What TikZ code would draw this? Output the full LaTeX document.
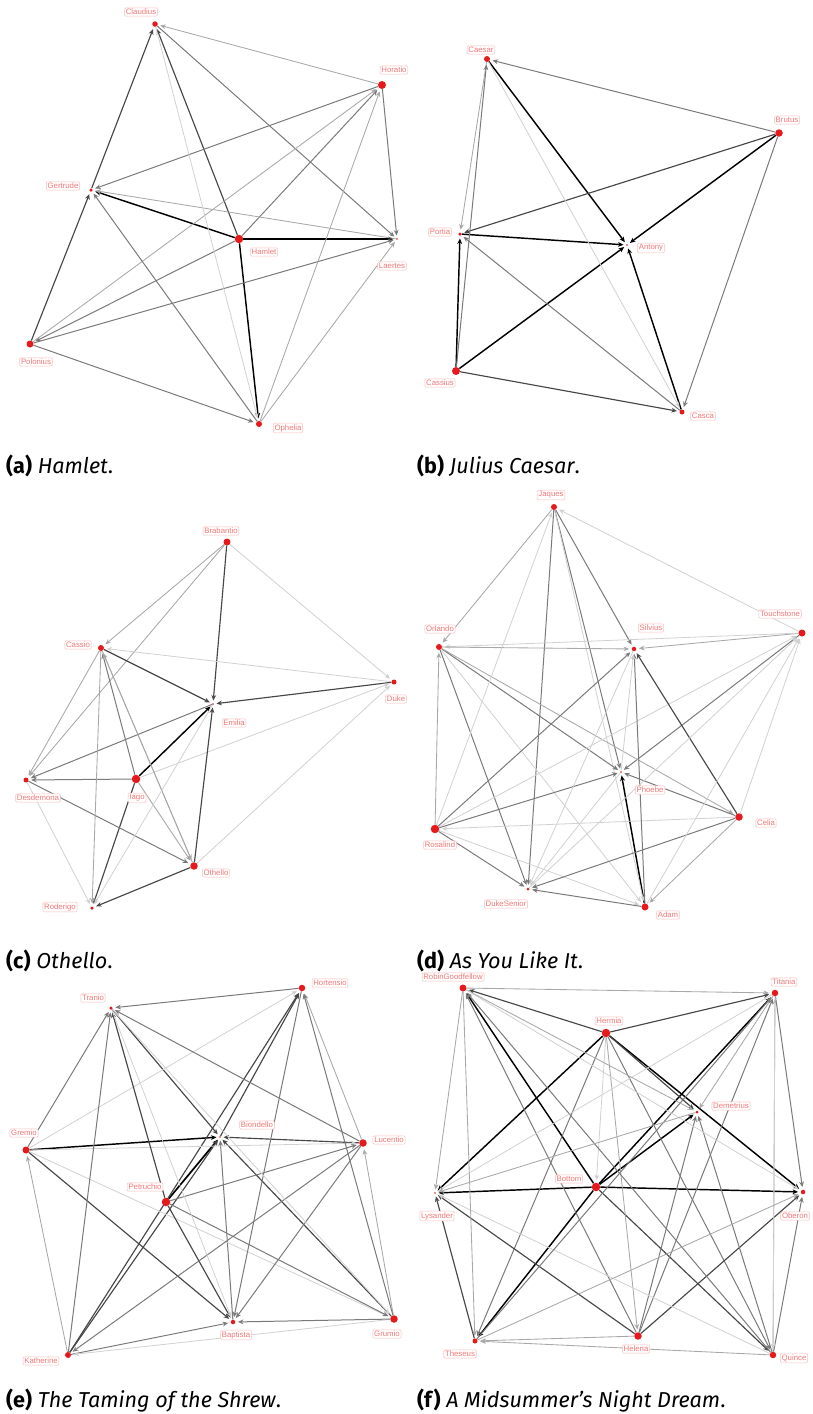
\documentclass[tikz,border=0pt]{standalone}
\usepackage{fontspec}
\setmainfont{Liberation Sans}
\newfontfamily\capfont{Fira Sans}
\usetikzlibrary{arrows.meta,backgrounds}
\definecolor{dotred}{RGB}{228,26,28}
\definecolor{lbltext}{RGB}{242,120,120}
\definecolor{lblbox}{RGB}{250,190,190}
\tikzset{
  vtx/.style={circle,fill=dotred,inner sep=0pt,minimum size=#1},
  lbl/.style={draw=lblbox,fill=white,text=lbltext,rounded corners=1.2pt,inner sep=1.3pt,line width=0.5pt,font=\fontsize{7.8}{8}\selectfont},
  conn/.style={-{Stealth[length=5.5pt,width=4.8pt]},shorten >=2.5pt},
  k1/.style={conn,draw=black,line width=1.45pt},
  k2/.style={conn,draw=black!72,line width=1.15pt},
  k3/.style={conn,draw=black!52,line width=1pt},
  k4/.style={conn,draw=black!34,line width=0.85pt},
  k5/.style={conn,draw=black!18,line width=0.8pt},
  captxt/.style={anchor=west,inner sep=0pt,font=\capfont\fontsize{21.6}{23}\selectfont}
}
\begin{document}
\begin{tikzpicture}[x=1pt,y=-1pt]
\useasboundingbox (0,0) rectangle (813,1414);
% ---------------- (a) Hamlet
\node[vtx=5.5pt] (aClaudius) at (155,24) {};
\node[vtx=8pt] (aHoratio) at (382,85) {};
\node[vtx=3.5pt] (aGertrude) at (91,190) {};
\node[vtx=8.5pt] (aHamlet) at (239,239) {};
\node[vtx=1.6pt] (aLaertes) at (397,239) {};
\node[vtx=7pt] (aPolonius) at (30,344) {};
\node[vtx=6pt] (aOphelia) at (259,424) {};
\begin{pgfonlayer}{background}
\draw[k1] (aHamlet) -- (aGertrude);
\draw[k1] (aHamlet) -- (aLaertes);
\draw[k1] (aHamlet) -- (aOphelia);
\draw[k2] (aHamlet) -- (aClaudius);
\draw[k3] (aHamlet) -- (aHoratio);
\draw[k3] (aHamlet) -- (aPolonius);
\draw[k2] (aGertrude) -- (aClaudius);
\draw[k2] (aPolonius) -- (aGertrude);
\draw[k3] (aHoratio) -- (aGertrude);
\draw[k4] (aHoratio) -- (aClaudius);
\draw[k3] (aClaudius) -- (aLaertes);
\draw[k3] (aHoratio) -- (aLaertes);
\draw[k4] (aLaertes) -- (aGertrude);
\draw[k4] (aPolonius) -- (aHoratio);
\draw[k3] (aPolonius) -- (aLaertes);
\draw[k3] (aPolonius) -- (aOphelia);
\draw[k3] (aOphelia) -- (aGertrude);
\draw[k4] (aOphelia) -- (aHoratio);
\draw[k4] (aOphelia) -- (aLaertes);
\draw[k5] (aClaudius) -- (aOphelia);
\end{pgfonlayer}
\node[lbl] (aClaudiusL) at (141,12) {Claudius};
\node[lbl] (aHoratioL) at (394,70) {Horatio};
\node[lbl] (aGertrudeL) at (63,186) {Gertrude};
\node[lbl] (aHamletL) at (264,252) {Hamlet};
\node[lbl] (aLaertesL) at (392,266) {Laertes};
\node[lbl] (aPoloniusL) at (36,362) {Polonius};
\node[lbl] (aOpheliaL) at (288,428) {Ophelia};
\node[captxt] (capA) at (6,466) {\textbf{(a)} \textit{Hamlet}.};
% ---------------- (b) Julius Caesar
\node[vtx=6pt] (bCaesar) at (487,59) {};
\node[vtx=7.5pt] (bBrutus) at (779,133) {};
\node[vtx=3.5pt] (bPortia) at (460,234) {};
\node[vtx=1.6pt] (bAntony) at (627,245) {};
\node[vtx=8pt] (bCassius) at (456,371) {};
\node[vtx=5pt] (bCasca) at (682,412) {};
\begin{pgfonlayer}{background}
\draw[k1] (bCaesar) -- (bAntony);
\draw[k1] (bBrutus) -- (bAntony);
\draw[k2] (bBrutus) -- (bPortia);
\draw[k3] (bBrutus) -- (bCaesar);
\draw[k3] (bBrutus) -- (bCasca);
\draw[k1] (bPortia) -- (bAntony);
\draw[k1] (bCassius) -- (bPortia);
\draw[k1] (bCassius) -- (bAntony);
\draw[k2] (bCassius) -- (bCasca);
\draw[k1] (bCasca) -- (bAntony);
\draw[k3] (bCasca) -- (bPortia);
\draw[k4] (bCaesar) -- (bPortia);
\draw[k3] (bCassius) -- (bCaesar);
\draw[k5] (bCaesar) -- (bCasca);
\end{pgfonlayer}
\node[lbl] (bCaesarL) at (481,50) {Caesar};
\node[lbl] (bBrutusL) at (787,120) {Brutus};
\node[lbl] (bPortiaL) at (440,232) {Portia};
\node[lbl] (bAntonyL) at (651,248) {Antony};
\node[lbl] (bCassiusL) at (440,383) {Cassius};
\node[lbl] (bCascaL) at (703,416) {Casca};
\node[captxt] (capB) at (417,466) {\textbf{(b)} \textit{Julius Caesar}.};
% ---------------- (c) Othello
\node[vtx=7pt] (cBrabantio) at (227,542) {};
\node[vtx=6pt] (cCassio) at (101,648) {};
\node[vtx=5pt] (cDuke) at (394,682) {};
\node[vtx=1.6pt] (cEmilia) at (213,704) {};
\node[vtx=5pt] (cDesdemona) at (26,780) {};
\node[vtx=8.5pt] (cIago) at (136,779) {};
\node[vtx=7.5pt] (cOthello) at (194,866) {};
\node[vtx=3.5pt] (cRoderigo) at (92,908) {};
\begin{pgfonlayer}{background}
\draw[k1] (cIago) -- (cEmilia);
\draw[k2] (cBrabantio) -- (cEmilia);
\draw[k4] (cBrabantio) -- (cCassio);
\draw[k4] (cBrabantio) -- (cDesdemona);
\draw[k5] (cBrabantio) -- (cDuke);
\draw[k2] (cCassio) -- (cEmilia);
\draw[k2] (cDuke) -- (cEmilia);
\draw[k5] (cDuke) -- (cCassio);
\draw[k3] (cIago) -- (cCassio);
\draw[k3] (cIago) -- (cDesdemona);
\draw[k5] (cIago) -- (cDuke);
\draw[k2] (cIago) -- (cRoderigo);
\draw[k4] (cIago) -- (cOthello);
\draw[k2] (cOthello) -- (cEmilia);
\draw[k2] (cOthello) -- (cRoderigo);
\draw[k4] (cOthello) -- (cCassio);
\draw[k5] (cOthello) -- (cDuke);
\draw[k3] (cEmilia) -- (cDesdemona);
\draw[k3] (cDesdemona) -- (cOthello);
\draw[k4] (cCassio) -- (cDesdemona);
\draw[k4] (cCassio) -- (cRoderigo);
\draw[k4] (cCassio) -- (cOthello);
\draw[k5] (cDesdemona) -- (cRoderigo);
\draw[k5] (cEmilia) -- (cRoderigo);
\end{pgfonlayer}
\node[lbl] (cBrabantioL) at (221,531) {Brabantio};
\node[lbl] (cCassioL) at (78,645) {Cassio};
\node[lbl] (cDukeL) at (396,699) {Duke};
\node[lbl] (cEmiliaL) at (234,723) {Emilia};
\node[lbl] (cDesdemonaL) at (38,798) {Desdemona};
\node[lbl] (cIagoL) at (137,798) {Iago};
\node[lbl] (cOthelloL) at (216,873) {Othello};
\node[lbl] (cRoderigoL) at (60,907) {Roderigo};
\node[captxt] (capC) at (6,961) {\textbf{(c)} \textit{Othello}.};
% ---------------- (d) As You Like It
\node[vtx=6pt] (dJaques) at (554,507) {};
\node[vtx=7pt] (dTouchstone) at (802,633) {};
\node[vtx=6pt] (dOrlando) at (439,647) {};
\node[vtx=4.5pt] (dSilvius) at (634,649) {};
\node[vtx=1.6pt] (dPhoebe) at (621,772) {};
\node[vtx=7.5pt] (dCelia) at (739,817) {};
\node[vtx=8.5pt] (dRosalind) at (435,829) {};
\node[vtx=3pt] (dDukeSenior) at (528,889) {};
\node[vtx=7pt] (dAdam) at (645,907) {};
\begin{pgfonlayer}{background}
\draw[k1] (dAdam) -- (dPhoebe);
\draw[k3] (dJaques) -- (dPhoebe);
\draw[k3] (dJaques) -- (dSilvius);
\draw[k4] (dJaques) -- (dOrlando);
\draw[k3] (dJaques) -- (dDukeSenior);
\draw[k5] (dJaques) -- (dAdam);
\draw[k5] (dTouchstone) -- (dJaques);
\draw[k4] (dTouchstone) -- (dSilvius);
\draw[k3] (dTouchstone) -- (dPhoebe);
\draw[k5] (dTouchstone) -- (dOrlando);
\draw[k4] (dOrlando) -- (dSilvius);
\draw[k3] (dOrlando) -- (dPhoebe);
\draw[k3] (dOrlando) -- (dDukeSenior);
\draw[k5] (dOrlando) -- (dAdam);
\draw[k4] (dOrlando) -- (dCelia);
\draw[k4] (dRosalind) -- (dOrlando);
\draw[k3] (dRosalind) -- (dSilvius);
\draw[k3] (dRosalind) -- (dPhoebe);
\draw[k3] (dRosalind) -- (dDukeSenior);
\draw[k5] (dCelia) -- (dRosalind);
\draw[k5] (dRosalind) -- (dTouchstone);
\draw[k5] (dRosalind) -- (dJaques);
\draw[k5] (dRosalind) -- (dAdam);
\draw[k3] (dCelia) -- (dPhoebe);
\draw[k2] (dCelia) -- (dSilvius);
\draw[k3] (dCelia) -- (dDukeSenior);
\draw[k4] (dCelia) -- (dAdam);
\draw[k5] (dCelia) -- (dTouchstone);
\draw[k3] (dAdam) -- (dDukeSenior);
\draw[k3] (dAdam) -- (dSilvius);
\draw[k5] (dAdam) -- (dTouchstone);
\draw[k5] (dSilvius) -- (dDukeSenior);
\draw[k5] (dPhoebe) -- (dSilvius);
\draw[k5] (dDukeSenior) -- (dTouchstone);
\draw[k5] (dPhoebe) -- (dDukeSenior);
\end{pgfonlayer}
\node[lbl] (dJaquesL) at (551,495) {Jaques};
\node[lbl] (dTouchstoneL) at (780,614) {Touchstone};
\node[lbl] (dOrlandoL) at (440,629) {Orlando};
\node[lbl] (dSilviusL) at (651,628) {Silvius};
\node[lbl] (dPhoebeL) at (650,790) {Phoebe};
\node[lbl] (dCeliaL) at (766,823) {Celia};
\node[lbl] (dRosalindL) at (440,845) {Rosalind};
\node[lbl] (dDukeSeniorL) at (506,904) {DukeSenior};
\node[lbl] (dAdamL) at (668,915) {Adam};
\node[captxt] (capD) at (417,961) {\textbf{(d)} \textit{As You Like It}.};
% ---------------- (e) The Taming of the Shrew
\node[vtx=6.5pt] (eHortensio) at (302,988) {};
\node[vtx=3.5pt] (eTranio) at (111,1008) {};
\node[vtx=1.6pt] (eBiondello) at (220,1137) {};
\node[vtx=7pt] (eGremio) at (26,1150) {};
\node[vtx=7.5pt] (eLucentio) at (363,1143) {};
\node[vtx=8.5pt] (ePetruchio) at (166,1202) {};
\node[vtx=4.5pt] (eBaptista) at (233,1322) {};
\node[vtx=7.5pt] (eGrumio) at (394,1319) {};
\node[vtx=6pt] (eKatherine) at (68,1355) {};
\begin{pgfonlayer}{background}
\draw[k1] (eGremio) -- (eBiondello);
\draw[k1,line width=1.7pt] (ePetruchio) -- (eBiondello);
\draw[k2] (eLucentio) -- (eBiondello);
\draw[k2] (eGrumio) -- (eBiondello);
\draw[k2] (eTranio) -- (eBiondello);
\draw[k2] (eBiondello) -- (eHortensio);
\draw[k2] (eKatherine) -- (eHortensio);
\draw[k2] (eKatherine) -- (eBiondello);
\draw[k3] (eBaptista) -- (eBiondello);
\draw[k3] (eGremio) -- (eTranio);
\draw[k5] (eGremio) -- (eHortensio);
\draw[k2] (eGremio) -- (eBaptista);
\draw[k5] (eGremio) -- (eLucentio);
\draw[k5] (eGremio) -- (eGrumio);
\draw[k2] (ePetruchio) -- (eTranio);
\draw[k2] (ePetruchio) -- (eBaptista);
\draw[k3] (ePetruchio) -- (eLucentio);
\draw[k3] (ePetruchio) -- (eGrumio);
\draw[k3] (eKatherine) -- (eTranio);
\draw[k4] (eKatherine) -- (eGremio);
\draw[k3] (eKatherine) -- (eBaptista);
\draw[k3] (eLucentio) -- (eKatherine);
\draw[k5] (eGrumio) -- (eKatherine);
\draw[k3] (eHortensio) -- (eTranio);
\draw[k3] (eHortensio) -- (eBaptista);
\draw[k3] (eLucentio) -- (eTranio);
\draw[k4] (eLucentio) -- (eHortensio);
\draw[k3] (eLucentio) -- (eBaptista);
\draw[k3] (eGrumio) -- (eBaptista);
\draw[k4] (eGrumio) -- (eLucentio);
\draw[k3] (eGrumio) -- (eHortensio);
\draw[k5] (eTranio) -- (eBaptista);
\draw[k5] (eTranio) -- (eGrumio);
\end{pgfonlayer}
\node[lbl] (eHortensioL) at (330,983) {Hortensio};
\node[lbl] (eTranioL) at (93,998) {Tranio};
\node[lbl] (eBiondelloL) at (257,1125) {Biondello};
\node[lbl] (eGremioL) at (24,1133) {Gremio};
\node[lbl] (eLucentioL) at (389,1140) {Lucentio};
\node[lbl] (ePetruchioL) at (145,1187) {Petruchio};
\node[lbl] (eBaptistaL) at (236,1335) {Baptista};
\node[lbl] (eGrumioL) at (387,1334) {Grumio};
\node[lbl] (eKatherineL) at (41,1361) {Katherine};
\node[captxt] (capE) at (6,1401) {\textbf{(e)} \textit{The Taming of the Shrew}.};
% ---------------- (f) A Midsummer's Night Dream
\node[vtx=7pt] (fRobinGoodfellow) at (463,988) {};
\node[vtx=6.5pt] (fTitania) at (775,993) {};
\node[vtx=8.5pt] (fHermia) at (606,1033) {};
\node[vtx=3pt] (fDemetrius) at (697,1112) {};
\node[vtx=8.5pt] (fBottom) at (596,1187) {};
\node[vtx=1.6pt] (fLysander) at (435,1193) {};
\node[vtx=4.5pt] (fOberon) at (803,1192) {};
\node[vtx=5pt] (fTheseus) at (475,1341) {};
\node[vtx=7.5pt] (fHelena) at (638,1336) {};
\node[vtx=6.5pt] (fQuince) at (773,1355) {};
\begin{pgfonlayer}{background}
\draw[k1] (fBottom) -- (fLysander);
\draw[k1] (fBottom) -- (fOberon);
\draw[k1] (fBottom) -- (fDemetrius);
\draw[k1] (fBottom) -- (fTheseus);
\draw[k1] (fBottom) -- (fTitania);
\draw[k1] (fBottom) -- (fRobinGoodfellow);
\draw[k2] (fBottom) -- (fQuince);
\draw[k1] (fHermia) -- (fLysander);
\draw[k1] (fHermia) -- (fOberon);
\draw[k2] (fHermia) -- (fDemetrius);
\draw[k2] (fHermia) -- (fRobinGoodfellow);
\draw[k2] (fHermia) -- (fTitania);
\draw[k3] (fHermia) -- (fTheseus);
\draw[k4] (fHermia) -- (fHelena);
\draw[k3] (fHermia) -- (fQuince);
\draw[k5] (fHermia) -- (fBottom);
\draw[k3] (fHelena) -- (fRobinGoodfellow);
\draw[k2] (fHelena) -- (fLysander);
\draw[k3] (fHelena) -- (fDemetrius);
\draw[k3] (fHelena) -- (fTitania);
\draw[k2] (fHelena) -- (fOberon);
\draw[k4] (fHelena) -- (fTheseus);
\draw[k4] (fQuince) -- (fTitania);
\draw[k3] (fQuince) -- (fOberon);
\draw[k3] (fQuince) -- (fDemetrius);
\draw[k5] (fQuince) -- (fLysander);
\draw[k4] (fQuince) -- (fTheseus);
\draw[k3] (fQuince) -- (fRobinGoodfellow);
\draw[k4] (fRobinGoodfellow) -- (fTitania);
\draw[k5] (fTitania) -- (fLysander);
\draw[k3] (fTitania) -- (fOberon);
\draw[k4] (fTitania) -- (fDemetrius);
\draw[k5] (fTitania) -- (fQuince);
\draw[k2] (fTheseus) -- (fLysander);
\draw[k3] (fTheseus) -- (fTitania);
\draw[k4] (fTheseus) -- (fOberon);
\draw[k4] (fRobinGoodfellow) -- (fLysander);
\draw[k4] (fRobinGoodfellow) -- (fTheseus);
\draw[k4] (fRobinGoodfellow) -- (fDemetrius);
\draw[k5] (fRobinGoodfellow) -- (fOberon);
\draw[k4] (fDemetrius) -- (fLysander);
\end{pgfonlayer}
\node[lbl] (fRobinGoodfellowL) at (453,977) {RobinGoodfellow};
\node[lbl] (fTitaniaL) at (784,982) {Titania};
\node[lbl] (fHermiaL) at (609,1021) {Hermia};
\node[lbl] (fDemetriusL) at (731,1106) {Demetrius};
\node[lbl] (fBottomL) at (569,1179) {Bottom};
\node[lbl] (fLysanderL) at (437,1216) {Lysander};
\node[lbl] (fOberonL) at (795,1216) {Oberon};
\node[lbl] (fTheseusL) at (460,1354) {Theseus};
\node[lbl] (fHelenaL) at (636,1349) {Helena};
\node[lbl] (fQuinceL) at (794,1358) {Quince};
\node[captxt] (capF) at (417,1401) {\textbf{(f)} \textit{A Midsummer’s Night Dream}.};
\end{tikzpicture}
\end{document}
